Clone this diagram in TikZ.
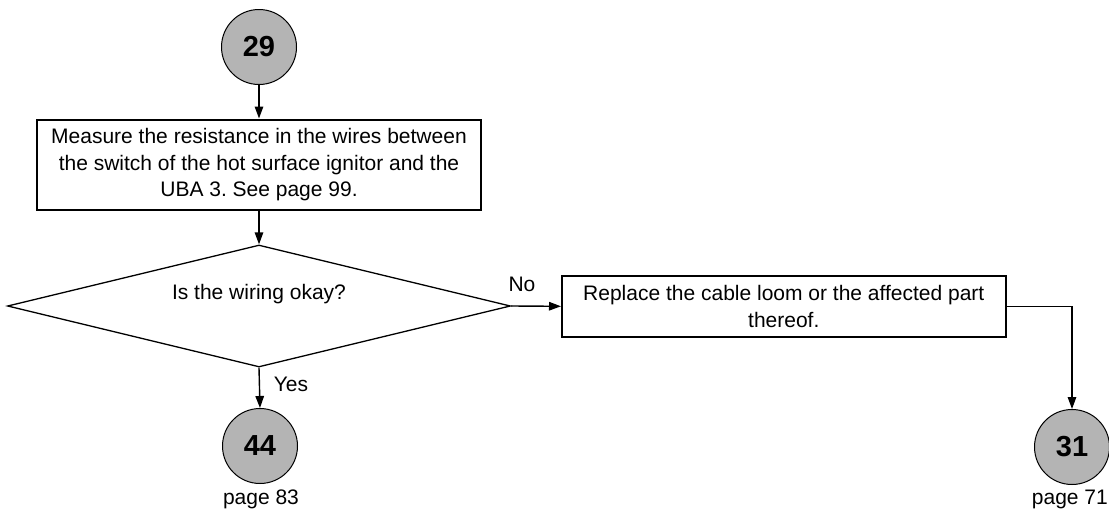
\documentclass[tikz,border=0pt]{standalone}
\usepackage{fontspec}
\setmainfont{Liberation Sans}
\frenchspacing
\usetikzlibrary{shapes.geometric,arrows.meta}
\definecolor{circfill}{RGB}{180,180,180}
\begin{document}
\begin{tikzpicture}[x=1pt,y=-1pt,
  every node/.style={font=\fontsize{21}{26.5}\selectfont, inner sep=0pt},
  conn/.style={draw=black, line width=1.4pt, -{Triangle[length=12pt,width=8.5pt]}},
  term/.style={circle, draw=black, line width=1pt, fill=circfill, minimum size=75pt,
    font=\fontsize{29}{30}\selectfont\bfseries},
  stepbox/.style={rectangle, draw=black, line width=2pt, align=center},
  decide/.style={diamond, draw=black, line width=1.3pt, minimum width=503pt, minimum height=122pt}
]
\useasboundingbox (0,0) rectangle (1109,517);
\node[term] (c29) at (259,47) {29};
\node[stepbox, minimum width=444pt, minimum height=90.5pt] (b1) at (259,164.75)
  {Measure the resistance in the wires between\\the switch of the hot surface ignitor and the\\UBA 3. See page 99.};
\node[decide] (d) at (259,306) {};
\node (dtext) at (259,294) {Is the wiring okay?};
\node[stepbox, minimum width=443.6pt, minimum height=60.6pt] (b2) at (783.8,306.3)
  {Replace the cable loom or the affected part\\thereof.};
\node[term] (c44) at (260,446) {44};
\node[term] (c31) at (1072,447) {31};
\node (no) at (522,284.5) {No};
\node (yes) at (291,384.5) {Yes};
\node (p83) at (261,499) {page 83};
\node[anchor=east] (p71) at (1108,499) {page 71};
\draw[conn] (c29.south) -- (b1.north);
\draw[conn] (b1.south) -- (d.north);
\draw[conn] (d.east) -- (b2.west);
\draw[conn] (d.south) -- (c44.north);
\draw[conn] (b2.east) -| (c31.north);
\end{tikzpicture}
\end{document}
